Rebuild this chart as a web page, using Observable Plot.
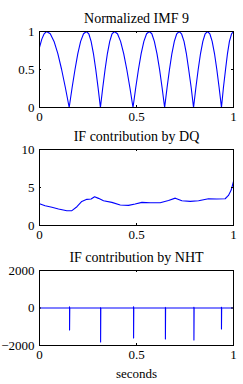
<!DOCTYPE html>
<html>
<head>
<meta charset="utf-8">
<script src="https://cdn.jsdelivr.net/npm/d3@7"></script>
<script src="https://cdn.jsdelivr.net/npm/@observablehq/plot@0.6"></script>
<style>
  html, body { margin: 0; padding: 0; background: #fff; }
  #chart svg { display: block; font-family: "Liberation Serif", "DejaVu Serif", serif; }
  #chart svg text { font-family: "Liberation Serif", "DejaVu Serif", serif; }
</style>
</head>
<body>
<div id="chart"></div>
<script>
// ---- Panel 1: Normalized IMF 9 ----
const imfT = [0, 0.012, 0.024, 0.036, 0.0555, 0.075, 0.0945, 0.114, 0.1335, 0.153,
  0.168, 0.183, 0.1975, 0.212, 0.227, 0.242,
  0.254, 0.266, 0.278, 0.290, 0.302, 0.314,
  0.326, 0.338, 0.350, 0.362, 0.374, 0.386,
  0.402, 0.418, 0.434, 0.450, 0.466, 0.482,
  0.496, 0.510, 0.524, 0.538, 0.552, 0.566,
  0.579, 0.592, 0.6055, 0.619, 0.632, 0.645,
  0.6575, 0.670, 0.6825, 0.695, 0.7075, 0.720,
  0.732, 0.745, 0.757, 0.769, 0.782, 0.794,
  0.806, 0.818, 0.830, 0.842, 0.854, 0.866,
  0.878, 0.890, 0.902, 0.914, 0.926, 0.938,
  0.948, 0.959, 0.969, 0.979, 0.990, 1.0];
const imfV = [0.79, 0.9, 0.97, 1, 0.97, 0.87, 0.71, 0.5, 0.26, 0,
  0.26, 0.5, 0.71, 0.87, 0.97, 1,
  0.97, 0.87, 0.71, 0.5, 0.26, 0,
  0.26, 0.5, 0.71, 0.87, 0.97, 1,
  0.97, 0.87, 0.71, 0.5, 0.26, 0,
  0.26, 0.5, 0.71, 0.87, 0.97, 1,
  0.97, 0.87, 0.71, 0.5, 0.26, 0,
  0.26, 0.5, 0.71, 0.87, 0.97, 1,
  0.97, 0.87, 0.71, 0.5, 0.26, 0,
  0.26, 0.5, 0.71, 0.87, 0.97, 1,
  0.97, 0.87, 0.71, 0.5, 0.26, 0,
  0.26, 0.5, 0.71, 0.87, 0.97, 1];

// ---- Panel 2: IF contribution by DQ ----
const dqT = [0, 0.029, 0.064, 0.098, 0.141, 0.167, 0.193, 0.218, 0.244, 0.266, 0.284,
  0.304, 0.330, 0.373, 0.416, 0.459, 0.493, 0.528, 0.571, 0.622, 0.665, 0.700,
  0.734, 0.777, 0.820, 0.871, 0.914, 0.957, 0.974, 0.988, 1.0];
const dqV = [2.86, 2.6, 2.39, 2.17, 1.95, 1.95, 2.47, 3.17, 3.44, 3.48, 3.78,
  3.57, 3.26, 3.04, 2.69, 2.65, 2.82, 3.04, 2.99, 3.0, 3.3, 3.6,
  3.26, 3.17, 3.26, 3.52, 3.48, 3.52, 3.96, 4.66, 5.8];

// ---- Panel 3: IF contribution by NHT ----
const nhtT = [0, 0.154, 0.155, 0.155, 0.156,
  0.314, 0.315, 0.315, 0.316,
  0.484, 0.485, 0.485, 0.486,
  0.648, 0.649, 0.649, 0.650,
  0.795, 0.796, 0.796, 0.797,
  0.937, 0.938, 0.938, 0.939, 1.0];
const nhtV = [0, 0, 60, -1168, 0,
  0, 20, -1808, 0,
  0, 70, -1595, 0,
  0, 30, -1648, 0,
  0, 40, -1701, 0,
  0, 40, -1115, 0, 0];

const xTicks = [0, 0.5, 1];
const titles = ["Normalized IMF 9", "IF contribution by DQ", "IF contribution by NHT"];
const yTicks1 = [0, 0.5, 1];
const yTicks2 = [0, 5, 10];
const yTicks3 = [-2000, 0, 2000];
const xLabel = "seconds";

const FONT = "'Liberation Serif', 'DejaVu Serif', serif";
const fmt = d => d < 0 ? "\u2212" + (-d) : String(d);
const W = 243, ML = 39, MR = 10;

function panel({t, v, yDomain, yTicks, title, height, marginTop, marginBottom, xlabel}) {
  const data = t.map((x, i) => ({x, y: v[i]}));
  const innerH = height - marginTop - marginBottom;
  const innerW = W - ML - MR;
  const marks = [
    Plot.line(data, {x: "x", y: "y", stroke: "#0000ff", strokeWidth: 1.1}),
    Plot.frame({stroke: "black", strokeWidth: 1}),
    Plot.tickX(xTicks, {x: d => d, insetTop: innerH - 2, stroke: "black"}),
    Plot.tickX(xTicks, {x: d => d, insetBottom: innerH - 2, stroke: "black"}),
    Plot.tickY(yTicks, {y: d => d, insetRight: innerW - 2, stroke: "black"}),
    Plot.tickY(yTicks, {y: d => d, insetLeft: innerW - 2, stroke: "black"}),
    Plot.axisX({ticks: xTicks, tickSize: 0, tickPadding: 4, tickFormat: fmt, label: null, fontFamily: FONT, fontSize: 13}),
    Plot.axisY({ticks: yTicks, tickSize: 0, tickPadding: 5, tickFormat: fmt, label: null, fontFamily: FONT, fontSize: 13}),
    Plot.text([title], {text: d => d, frameAnchor: "top", lineAnchor: "bottom", dy: -9, fontSize: 14, fontFamily: FONT})
  ];
  if (xlabel) marks.push(Plot.text([xlabel], {text: d => d, frameAnchor: "bottom", lineAnchor: "middle", dy: 28, fontSize: 13, fontFamily: FONT}));
  return Plot.plot({
    width: W, height, marginLeft: ML, marginRight: MR, marginTop, marginBottom,
    x: {domain: [0, 1], label: null},
    y: {domain: yDomain, label: null},
    style: {fontFamily: FONT, fontSize: "13px", color: "black", background: "white", overflow: "visible"},
    marks
  });
}

const el = document.getElementById("chart");
el.append(panel({t: imfT, v: imfV, yDomain: [0, 1], yTicks: yTicks1, title: titles[0], height: 125, marginTop: 31, marginBottom: 18}));
el.append(panel({t: dqT, v: dqV, yDomain: [0, 10], yTicks: yTicks2, title: titles[1], height: 120, marginTop: 24, marginBottom: 20}));
el.append(panel({t: nhtT, v: nhtV, yDomain: [-2000, 2000], yTicks: yTicks3, title: titles[2], height: 139, marginTop: 25, marginBottom: 39, xlabel: xLabel}));
</script>
</body>
</html>
